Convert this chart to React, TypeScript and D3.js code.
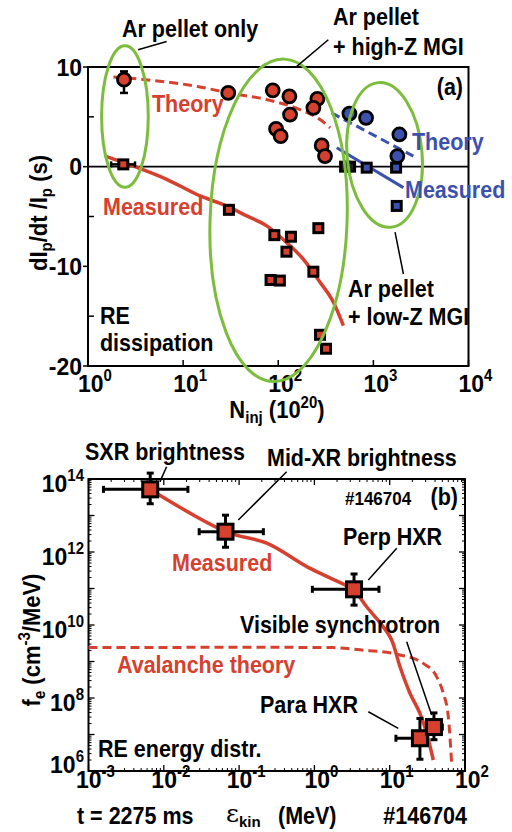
import React from "react";
import * as d3 from "d3";

const RED = "#d6402e";
const BLUE = "#3c50ad";
const GREEN = "#7dbd3e";
const FONT = "'Liberation Sans', Arial, Helvetica, sans-serif";

// ---------- Panel (a) data ----------
const aXTicks = [1, 10, 100, 1000, 10000];
const aXExps = ["0", "1", "2", "3", "4"];
const aYMajor = [10, 0, -10, -20];
const aYMinor = [5, -5, -15];

// [N_inj (1e20), dIp/dt/Ip (s)]
const redCircles: [number, number][] = [
  [2.39, 8.73], [29.8, 7.4], [87.5, 7.66], [131, 7.06], [133, 5.23], [94.8, 3.8],
  [106, 3.06], [258, 6.8], [234, 5.9], [286, 2.13], [310, 1.06],
];
const blueCircles: [number, number][] = [[560, 5.33], [838, 4.9], [1877, 3.23], [1787, 1.06]];
const redSquares: [number, number][] = [
  [2.35, 0.23], [30.3, -4.33], [91, -6.87], [136, -7.03], [122, -8.53], [83, -11.37],
  [104, -11.43], [264, -6.17], [234, -10.54], [275, -16.87], [318, -18.27],
];
const darkSquares: [number, number][] = [[504, 0], [569, 0]];
const blueSquares: [number, number][] = [[851, -0.1], [1733, -0.1], [1760, -3.94]];

const redTheoryA: [number, number][] = [
  [1.85, 9.0], [15, 8.0], [30, 7.4], [75.7, 6.73], [169, 5.73], [275, 4.73], [351, 3.9],
];
const redMeasuredA: [number, number][] = [
  [1.51, 1.06], [2.99, 0.06], [6.71, -1.27], [15.1, -2.94], [28.6, -3.94], [46.6, -4.94],
  [75.7, -5.94], [122, -7.6], [183, -9.27], [275, -11.6], [380, -13.6], [484, -15.94],
];
const blueTheoryA: [number, number][] = [[363, 5.4], [2630, 1.06]];
const blueMeasuredA: [number, number][] = [[412, 1.9], [2070, -2.1]];

// error bars on the Ar pellet-only points: [N, y, lo, hi]
const circleErrY: [number, number, number, number][] = [[2.39, 8.73, 7.4, 9.56]];
const squareErrX: [number, number, number, number][] = [[2.35, 0.23, 1.75, 3.12]];

// groups (ellipses): N range, y range, rotation
const groupsN: [number, number][] = [[1.39, 4.3], [19.2, 529], [529, 3250]];
const groupsY: [number, number][] = [[-2.07, 12.13], [-21.57, 10.8], [-6.1, 8.46]];
const groupsRot = [0, 2, -5];

const leadersA: [number, number][][] = [
  [[3.36, 11.73], [6.71, 12.56]],
  [[156.6, 10.06], [336, 12.73]],
  [[1690, -6.57], [2070, -10.77]],
];

// ---------- Panel (b) data ----------
const bXTicks = [1e-3, 1e-2, 1e-1, 1, 10, 100];
const bXExps = ["-3", "-2", "-1", "0", "1", "2"];
const bYLabelTicks = [1e6, 1e8, 1e10, 1e12, 1e14];
const bYExps = ["6", "8", "10", "12", "14"];

// [energy MeV, f_e, eLo, eHi, fLo, fHi]
const bPoints: number[][] = [
  [6.6e-3, 5.2e13, 1.58e-3, 2.09e-2, 2.1e13, 1.45e14],
  [0.066, 3.6e12, 0.0295, 0.21, 1.35e12, 1.02e13],
  [3.36, 9.5e10, 0.94, 7.2, 3.5e10, 2.5e11],
  [25.2, 7.9e6, 12.1, 30, 2.1e6, 2.75e7],
  [38.7, 1.6e7, 31, 50, 7.2e6, 3.9e7],
];
const measuredB: [number, number][] = [
  [6.56e-3, 5.25e13], [0.0664, 3.63e12], [0.233, 1.74e12], [0.791, 3.98e11], [1.61, 1.95e11],
  [3.29, 9.1e10], [4.94, 3.16e10], [8.22, 8.9e9], [10.6, 3.9e9], [13.7, 7.2e8], [18.6, 1.35e8],
  [25.2, 3.8e7], [31.0, 1.07e7], [37.9, 2.0e6],
];
const avalancheB: [number, number][] = [
  [1e-3, 2.4e9], [0.19, 2.45e9], [1.77, 2.4e9], [4.04, 2.09e9], [13.7, 1.51e9], [27.9, 8.9e8],
  [42.1, 3.8e8], [51.5, 1.35e8], [60, 3.1e7], [66.5, 1.62e6],
];
const leadersB: [number, number][][] = [
  [[8.9e-3, 8.5e13], [0.0109, 2.17e14]],
  [[0.0975, 7.5e12], [0.428, 1.58e14]],
  [[5.2, 1.71e11], [12.4, 1.26e12]],
  [[16.8, 3.5e9], [36.1, 3.42e7]],
  [[5.2, 4.2e7], [13.0, 1.48e7]],
];

const xA = d3.scaleLog().domain([1, 1e4]).range([88, 468.5]);
const yA = d3.scaleLinear().domain([-20, 10]).range([366, 67]);
const xB = d3.scaleLog().domain([1e-3, 1e2]).range([88.5, 465]);
const yB = d3.scaleLog().domain([1e6, 1e14]).range([771, 479]);

const lineA = d3.line<[number, number]>().x((d) => xA(d[0])).y((d) => yA(d[1])).curve(d3.curveMonotoneX);
const lineB = d3.line<[number, number]>().x((d) => xB(d[0])).y((d) => yB(d[1])).curve(d3.curveMonotoneX);
const smoothB = d3.line<[number, number]>().x((d) => xB(d[0])).y((d) => yB(d[1])).curve(d3.curveCatmullRom.alpha(0.5));
const straightA = d3.line<[number, number]>().x((d) => xA(d[0])).y((d) => yA(d[1]));
const straightB = d3.line<[number, number]>().x((d) => xB(d[0])).y((d) => yB(d[1]));

function minorLogTicks(lo: number, hi: number): number[] {
  const out: number[] = [];
  for (let e = Math.round(Math.log10(lo)); e < Math.round(Math.log10(hi)); e++) {
    for (let m = 2; m <= 9; m++) out.push(m * Math.pow(10, e));
  }
  return out;
}

const T = { fontFamily: FONT, fontWeight: 700 as const };

function Label(props: { x: number; y: number; anchor?: string; size?: number; fill?: string; children: React.ReactNode }) {
  const { x, y, anchor = "start", size = 21.5, fill = "#000", children } = props;
  return (
    <text transform={`translate(${x},${y}) scale(1,1.08)`} textAnchor={anchor as any} fontSize={size} fill={fill} {...T}>
      {children}
    </text>
  );
}

export default function App() {
  const sq = 9;
  const sqB = 15;
  const bxMinor = minorLogTicks(1e-3, 1e2);
  const byMinor = minorLogTicks(1e6, 1e14);
  const byMajor = d3.range(6, 15).map((e) => Math.pow(10, e));
  const [ax0, ax1] = xA.range();
  const [ay0, ay1] = yA.range();
  const [bx0, bx1] = xB.range();
  const [by0, by1] = yB.range();

  return (
    <svg width={512} height={832} style={{ position: "absolute", left: 0, top: 0, background: "#fff" }}>
      <rect x={0} y={0} width={512} height={832} fill="#fff" />
      {/* ================= Panel (a) ================= */}
      <rect x={ax0} y={ay1} width={ax1 - ax0} height={ay0 - ay1} fill="none" stroke="#000" strokeWidth={2} />
      <line x1={ax0} x2={ax1} y1={yA(0)} y2={yA(0)} stroke="#000" strokeWidth={1.6} />
      {aYMajor.map((v) => (
        <g key={"ay" + v}>
          <line x1={ax0 - 5} x2={ax0} y1={yA(v)} y2={yA(v)} stroke="#000" strokeWidth={1.5} />
          <Label x={82} y={yA(v) + 8.5} anchor="end" size={23}>{v}</Label>
        </g>
      ))}
      {aYMinor.map((v) => (
        <line key={"aym" + v} x1={ax0} x2={ax0 + 6} y1={yA(v)} y2={yA(v)} stroke="#000" strokeWidth={1.5} />
      ))}
      {aXTicks.map((v, i) => (
        <g key={"ax" + v}>
          <line x1={xA(v)} x2={xA(v)} y1={ay0} y2={ay0 - 6} stroke="#000" strokeWidth={1.5} />
          <Label x={xA(v) + 7} y={392} anchor="middle" size={23}>
            10<tspan dy={-10} fontSize={15}>{aXExps[i]}</tspan>
          </Label>
        </g>
      ))}
      <Label x={277} y={418} anchor="middle" size={22}>
        N<tspan dy={5} fontSize={15}>inj</tspan><tspan dy={-5}> (10</tspan>
        <tspan dy={-9} fontSize={15}>20</tspan><tspan dy={9}>)</tspan>
      </Label>
      <text transform="translate(47,213) rotate(-90) scale(1,1.08)" textAnchor="middle" fontSize={22} {...T}>
        dI<tspan dy={5} fontSize={15}>p</tspan><tspan dy={-5}>/dt /I</tspan>
        <tspan dy={5} fontSize={15}>p</tspan><tspan dy={-5}> (s)</tspan>
      </text>

      {/* curves */}
      <path d={lineA(redTheoryA) || ""} fill="none" stroke={RED} strokeWidth={3} strokeDasharray="9,5" />
      <path d={lineA(redMeasuredA) || ""} fill="none" stroke={RED} strokeWidth={3.5} />
      <path d={straightA(blueTheoryA) || ""} fill="none" stroke={BLUE} strokeWidth={3} strokeDasharray="9,5" />
      <path d={straightA(blueMeasuredA) || ""} fill="none" stroke={BLUE} strokeWidth={3} />

      {/* error bars */}
      {circleErrY.map((d, i) => (
        <g key={"ce" + i} stroke="#000" strokeWidth={2.5}>
          <line x1={xA(d[0])} x2={xA(d[0])} y1={yA(d[2])} y2={yA(d[3])} />
          <line x1={xA(d[0]) - 4} x2={xA(d[0]) + 4} y1={yA(d[2])} y2={yA(d[2])} />
          <line x1={xA(d[0]) - 4} x2={xA(d[0]) + 4} y1={yA(d[3])} y2={yA(d[3])} />
        </g>
      ))}
      {squareErrX.map((d, i) => (
        <g key={"se" + i} stroke="#000" strokeWidth={2.5}>
          <line x1={xA(d[2])} x2={xA(d[3])} y1={yA(d[1])} y2={yA(d[1])} />
          <line x1={xA(d[2])} x2={xA(d[2])} y1={yA(d[1]) - 3} y2={yA(d[1]) + 3} />
          <line x1={xA(d[3])} x2={xA(d[3])} y1={yA(d[1]) - 3} y2={yA(d[1]) + 3} />
        </g>
      ))}

      {/* markers */}
      {redCircles.map((d, i) => (
        <circle key={"rc" + i} cx={xA(d[0])} cy={yA(d[1])} r={6.5} fill={RED} stroke="#000" strokeWidth={2.8} />
      ))}
      {blueCircles.map((d, i) => (
        <circle key={"bc" + i} cx={xA(d[0])} cy={yA(d[1])} r={6.5} fill={BLUE} stroke="#000" strokeWidth={2.8} />
      ))}
      {redSquares.map((d, i) => (
        <rect key={"rs" + i} x={xA(d[0]) - sq / 2} y={yA(d[1]) - sq / 2} width={sq} height={sq} fill={RED} stroke="#000" strokeWidth={3} />
      ))}
      {darkSquares.map((d, i) => (
        <rect key={"ds" + i} x={xA(d[0]) - sq / 2} y={yA(d[1]) - sq / 2} width={sq} height={sq} fill="#222" stroke="#000" strokeWidth={3} />
      ))}
      {blueSquares.map((d, i) => (
        <rect key={"bs" + i} x={xA(d[0]) - sq / 2} y={yA(d[1]) - sq / 2} width={sq} height={sq} fill={BLUE} stroke="#000" strokeWidth={3} />
      ))}

      {/* group ellipses */}
      {groupsN.map((n, i) => {
        const x0 = xA(n[0]);
        const x1 = xA(n[1]);
        const y0 = yA(groupsY[i][1]);
        const y1 = yA(groupsY[i][0]);
        const cx = (x0 + x1) / 2;
        const cy = (y0 + y1) / 2;
        return (
          <ellipse key={"el" + i} cx={cx} cy={cy} rx={(x1 - x0) / 2} ry={(y1 - y0) / 2}
            transform={`rotate(${groupsRot[i]},${cx},${cy})`} fill="none" stroke={GREEN} strokeWidth={3} />
        );
      })}
      {leadersA.map((l, i) => (
        <path key={"la" + i} d={straightA(l) || ""} stroke="#000" strokeWidth={1.5} fill="none" />
      ))}

      {/* annotations (a) */}
      <Label x={122} y={37}>Ar pellet only</Label>
      <Label x={333} y={25}>Ar pellet</Label>
      <Label x={333} y={55}>+ high-Z MGI</Label>
      <Label x={463} y={95} anchor="end">(a)</Label>
      <Label x={152} y={112} fill={RED}>Theory</Label>
      <Label x={412} y={150} fill={BLUE}>Theory</Label>
      <Label x={405} y={198} fill={BLUE}>Measured</Label>
      <Label x={103} y={215} fill={RED}>Measured</Label>
      <Label x={348} y={297}>Ar pellet</Label>
      <Label x={348} y={325}>+ low-Z MGI</Label>
      <Label x={100} y={324}>RE</Label>
      <Label x={100} y={351}>dissipation</Label>

      {/* ================= Panel (b) ================= */}
      <rect x={bx0} y={by1} width={bx1 - bx0} height={by0 - by1} fill="none" stroke="#000" strokeWidth={2} />
      {byMajor.map((v) => (
        <g key={"bym" + v} stroke="#000" strokeWidth={1.3}>
          <line x1={bx0} x2={bx0 + 6} y1={yB(v)} y2={yB(v)} />
          <line x1={bx1} x2={bx1 - 6} y1={yB(v)} y2={yB(v)} />
        </g>
      ))}
      {byMinor.map((v) => (
        <g key={"byn" + v} stroke="#000" strokeWidth={1}>
          <line x1={bx0} x2={bx0 + 3} y1={yB(v)} y2={yB(v)} />
          <line x1={bx1} x2={bx1 - 3} y1={yB(v)} y2={yB(v)} />
        </g>
      ))}
      {bXTicks.map((v) => (
        <g key={"bxm" + v} stroke="#000" strokeWidth={1.3}>
          <line x1={xB(v)} x2={xB(v)} y1={by0} y2={by0 - 6} />
          <line x1={xB(v)} x2={xB(v)} y1={by1} y2={by1 + 6} />
        </g>
      ))}
      {bxMinor.map((v) => (
        <g key={"bxn" + v} stroke="#000" strokeWidth={1}>
          <line x1={xB(v)} x2={xB(v)} y1={by0} y2={by0 - 3} />
          <line x1={xB(v)} x2={xB(v)} y1={by1} y2={by1 + 3} />
        </g>
      ))}
      {bYLabelTicks.map((v, i) => (
        <Label key={"byl" + v} x={84} y={i === 0 ? yB(v) + 2 : yB(v) + 13} anchor="end" size={23}>
          10<tspan dy={-10} fontSize={15}>{bYExps[i]}</tspan>
        </Label>
      ))}
      {bXTicks.map((v, i) => (
        <Label key={"bxl" + v} x={xB(v) + 7} y={788} anchor="middle" size={23}>
          10<tspan dy={-10} fontSize={15}>{bXExps[i]}</tspan>
        </Label>
      ))}
      <text transform="translate(40,640) rotate(-90) scale(1,1.08)" textAnchor="middle" fontSize={22} {...T}>
        f<tspan dy={5} fontSize={15}>e</tspan><tspan dy={-5}> (cm</tspan>
        <tspan dy={-9} fontSize={15}>-3</tspan><tspan dy={9}>/MeV)</tspan>
      </text>
      <Label x={77} y={824}>t = 2275 ms</Label>
      <text x={226} y={822} fontSize={25} fontFamily="'DejaVu Serif', serif">
        ε<tspan dy={5} fontSize={15} fontWeight={700} fontFamily={FONT}>kin</tspan>
      </text>
      <Label x={278} y={824}>(MeV)</Label>
      <Label x={467} y={824} anchor="end">#146704</Label>

      <path d={lineB(avalancheB) || ""} fill="none" stroke={RED} strokeWidth={3} strokeDasharray="9,5" />
      <path d={smoothB(measuredB) || ""} fill="none" stroke={RED} strokeWidth={3.5} />

      {bPoints.map((d, i) => {
        const cx = xB(d[0]);
        const cy = yB(d[1]);
        return (
          <g key={"bp" + i}>
            <g stroke="#000" strokeWidth={3}>
              <line x1={xB(d[2])} x2={xB(d[3])} y1={cy} y2={cy} />
              <line x1={xB(d[2])} x2={xB(d[2])} y1={cy - 3.5} y2={cy + 3.5} />
              <line x1={xB(d[3])} x2={xB(d[3])} y1={cy - 3.5} y2={cy + 3.5} />
              <line x1={cx} x2={cx} y1={yB(d[4])} y2={yB(d[5])} />
              <line x1={cx - 3.5} x2={cx + 3.5} y1={yB(d[4])} y2={yB(d[4])} />
              <line x1={cx - 3.5} x2={cx + 3.5} y1={yB(d[5])} y2={yB(d[5])} />
            </g>
            <rect x={cx - sqB / 2} y={cy - sqB / 2} width={sqB} height={sqB} fill={RED} stroke="#000" strokeWidth={3} />
          </g>
        );
      })}
      {leadersB.map((l, i) => (
        <path key={"lb" + i} d={straightB(l) || ""} stroke="#000" strokeWidth={1.5} fill="none" />
      ))}

      <Label x={85} y={460}>SXR brightness</Label>
      <Label x={267} y={466}>Mid-XR brightness</Label>
      <Label x={345} y={505} size={17}>#146704</Label>
      <Label x={458} y={505} anchor="end">(b)</Label>
      <Label x={172} y={571} fill={RED}>Measured</Label>
      <Label x={343} y={545}>Perp HXR</Label>
      <Label x={240} y={633}>Visible synchrotron</Label>
      <Label x={117} y={673} fill={RED}>Avalanche theory</Label>
      <Label x={260} y={713}>Para HXR</Label>
      <Label x={98} y={757}>RE energy distr.</Label>
    </svg>
  );
}
